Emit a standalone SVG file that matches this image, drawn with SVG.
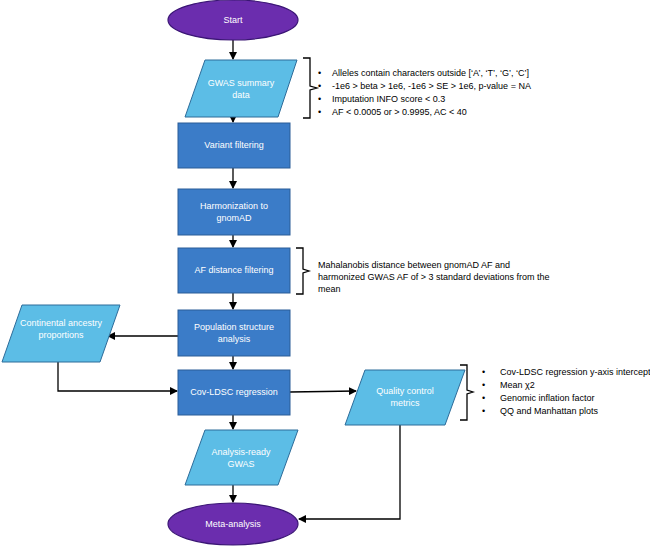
<svg xmlns="http://www.w3.org/2000/svg" width="650" height="546" viewBox="0 0 650 546">
<defs>
<marker id="ah" markerWidth="8" markerHeight="8" refX="7" refY="4" orient="auto" markerUnits="userSpaceOnUse"><path d="M0,0 L8,4 L0,8 Z" fill="#000"/></marker>
<style>
.t{font-family:"Liberation Sans",Arial,sans-serif;font-size:9px;fill:#fff;text-anchor:middle}
.n{font-family:"Liberation Sans",Arial,sans-serif;font-size:9px;fill:#000}
.r{fill:#3B7CC8;stroke:#2A5C97;stroke-width:1}
.p{fill:#5CBDE6;stroke:#2D6C9A;stroke-width:1}
.e{fill:#6B2DAE;stroke:#3B1675;stroke-width:1.2}
.c{fill:none;stroke:#000;stroke-width:1.3}
.b{fill:none;stroke:#000;stroke-width:1.3}
</style>
</defs>
<g id="connectors">
<line class="c" x1="233" y1="40" x2="233" y2="59" marker-end="url(#ah)"/>
<line class="c" x1="233" y1="117" x2="233" y2="122" marker-end="url(#ah)"/>
<line class="c" x1="233" y1="168" x2="233" y2="188" marker-end="url(#ah)"/>
<line class="c" x1="233" y1="235" x2="233" y2="247" marker-end="url(#ah)"/>
<line class="c" x1="233" y1="293" x2="233" y2="309" marker-end="url(#ah)"/>
<line class="c" x1="233" y1="356" x2="233" y2="369" marker-end="url(#ah)"/>
<line class="c" x1="233" y1="415" x2="233" y2="429" marker-end="url(#ah)"/>
<line class="c" x1="233" y1="485" x2="233" y2="502" marker-end="url(#ah)"/>
<line class="c" x1="178" y1="336" x2="108" y2="336" marker-end="url(#ah)"/>
<polyline class="c" points="58,362 58,391 177,391" marker-end="url(#ah)"/>
<line class="c" x1="290" y1="392" x2="356" y2="391" marker-end="url(#ah)"/>
<polyline class="c" points="400,425 400,519 299,519" marker-end="url(#ah)"/>
</g>
<g id="start"><ellipse class="e" cx="233" cy="20" rx="65" ry="20"/><text class="t" x="233" y="23">Start</text></g>
<g id="gwas"><polygon class="p" points="205,60 297,60 278,117 185,117"/><text class="t" x="241" y="86">GWAS summary</text><text class="t" x="241" y="98">data</text></g>
<g id="variant"><rect class="r" x="178" y="123" width="112" height="45"/><text class="t" x="234" y="148">Variant filtering</text></g>
<g id="harm"><rect class="r" x="178" y="189" width="112" height="46"/><text class="t" x="234" y="209">Harmonization to</text><text class="t" x="234" y="221">gnomAD</text></g>
<g id="afdist"><rect class="r" x="178" y="248" width="112" height="45"/><text class="t" x="234" y="273">AF distance filtering</text></g>
<g id="pop"><rect class="r" x="178" y="310" width="112" height="46"/><text class="t" x="234" y="330">Population structure</text><text class="t" x="234" y="342">analysis</text></g>
<g id="cov"><rect class="r" x="178" y="370" width="112" height="45"/><text class="t" x="234" y="395">Cov-LDSC regression</text></g>
<g id="ready"><polygon class="p" points="205,430 298,430 278,485 185,485"/><text class="t" x="241" y="455">Analysis-ready</text><text class="t" x="241" y="467">GWAS</text></g>
<g id="meta"><ellipse class="e" cx="233" cy="524" rx="65" ry="21"/><text class="t" x="233" y="527">Meta-analysis</text></g>
<g id="continental"><polygon class="p" points="22,305 120,305 100,362 2,362"/><text class="t" x="61" y="326">Continental ancestry</text><text class="t" x="61" y="338">proportions</text></g>
<g id="qc"><polygon class="p" points="365,370 465,370 445,425 345,425"/><text class="t" x="405" y="394">Quality control</text><text class="t" x="405" y="406">metrics</text></g>
<g id="note1">
<path class="b" d="M303,58 H310 V86 L317,88 L310,90 V118 H303"/>
<text class="n" x="318" y="76">•</text><text class="n" x="332" y="76">Alleles contain characters outside [‘A’, ‘T’, ‘G’, ‘C’]</text>
<text class="n" x="318" y="89">•</text><text class="n" x="332" y="89">-1e6 &gt; beta &gt; 1e6, -1e6 &gt; SE &gt; 1e6, p-value = NA</text>
<text class="n" x="318" y="102">•</text><text class="n" x="332" y="102">Imputation INFO score &lt; 0.3</text>
<text class="n" x="318" y="115">•</text><text class="n" x="332" y="115">AF &lt; 0.0005 or &gt; 0.9995, AC &lt; 40</text>
</g>
<g id="note2">
<path class="b" d="M296,248 H303 V269 L309,271 L303,273 V294 H296"/>
<text class="n" x="318" y="268">Mahalanobis distance between gnomAD AF and</text>
<text class="n" x="318" y="280">harmonized GWAS AF of &gt; 3 standard deviations from the</text>
<text class="n" x="318" y="292">mean</text>
</g>
<g id="note3">
<path class="b" d="M460,365 H467 V390 L473,392 L467,394 V420 H460"/>
<text class="n" x="482" y="375">•</text><text class="n" x="500" y="375">Cov-LDSC regression y-axis intercept</text>
<text class="n" x="482" y="388">•</text><text class="n" x="500" y="388">Mean χ2</text>
<text class="n" x="482" y="401">•</text><text class="n" x="500" y="401">Genomic inflation factor</text>
<text class="n" x="482" y="414">•</text><text class="n" x="500" y="414">QQ and Manhattan plots</text>
</g>
</svg>
